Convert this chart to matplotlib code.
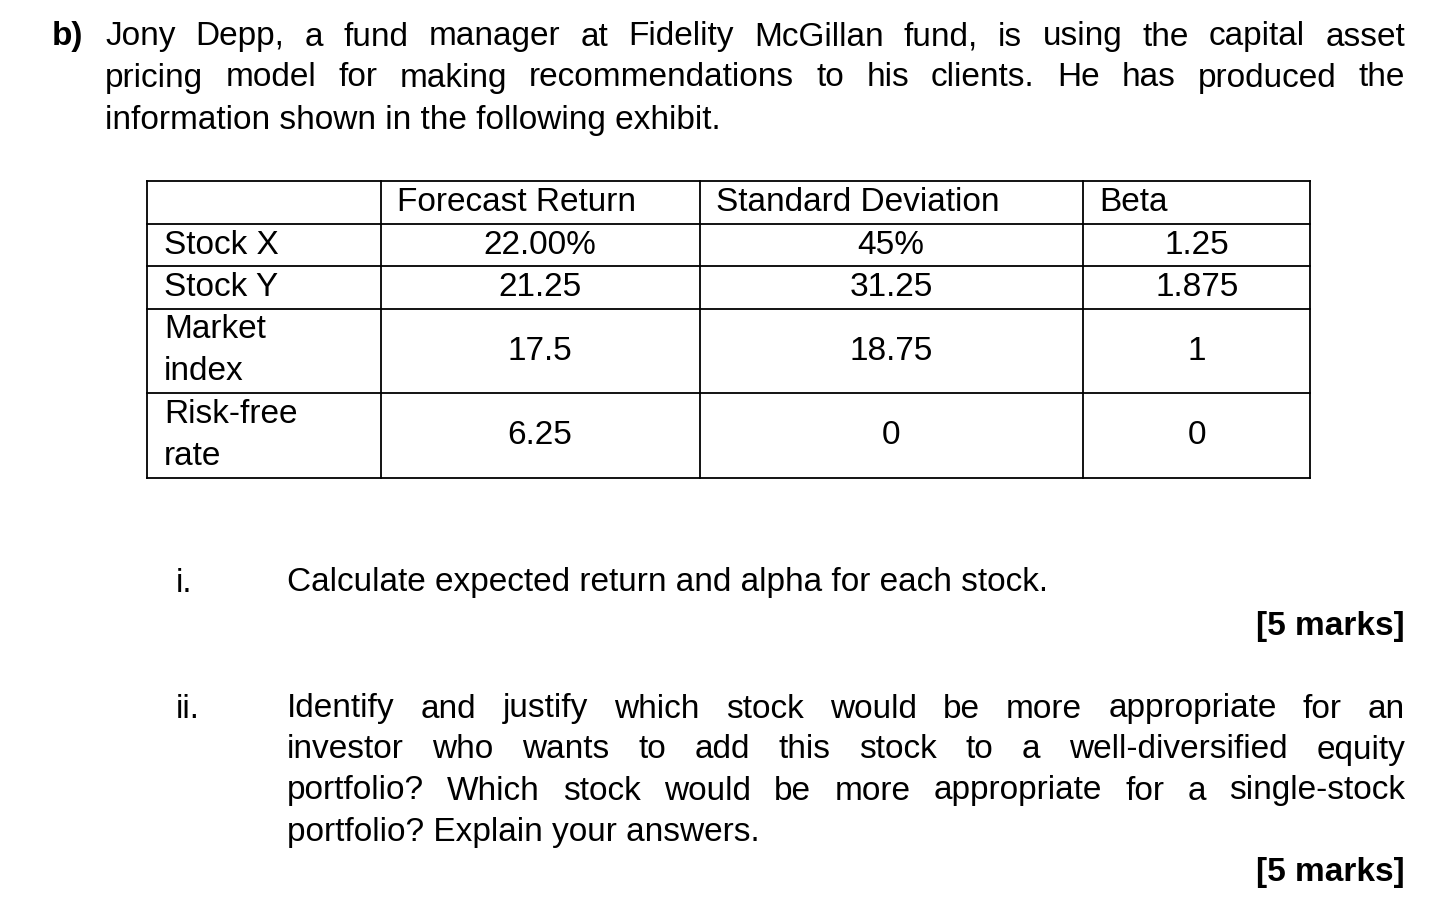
import matplotlib
matplotlib.use("Agg")
import matplotlib.pyplot as plt

plt.rcParams['font.family'] = ['Liberation Sans', 'DejaVu Sans']

intro_lines = ["Jony Depp, a fund manager at Fidelity McGillan fund, is using the capital asset",
               "pricing model for making recommendations to his clients. He has produced the",
               "information shown in the following exhibit."]
headers = ["", "Forecast Return", "Standard Deviation", "Beta"]
row_labels = [["Stock X"], ["Stock Y"], ["Market", "index"], ["Risk-free", "rate"]]
forecast = ["22.00%", "21.25", "17.5", "6.25"]
stdev = ["45%", "31.25", "18.75", "0"]
beta = ["1.25", "1.875", "1", "0"]
q1 = ["Calculate expected return and alpha for each stock."]
q2 = ["Identify and justify which stock would be more appropriate for an",
      "investor who wants to add this stock to a well-diversified equity",
      "portfolio? Which stock would be more appropriate for a single-stock",
      "portfolio? Explain your answers."]

W, H = 1456, 906
fig = plt.figure(figsize=(W/100, H/100), dpi=100)
ax = fig.add_axes([0, 0, 1, 1])
ax.set_xlim(0, W); ax.set_ylim(H, 0); ax.axis('off')
FS = 24
r = fig.canvas.get_renderer()

def justified(line, x0, x1, y, justify=True):
    words = line.split(" ")
    if not justify or len(words) == 1:
        ax.text(x0, y, line, fontsize=FS, va='center', ha='left')
        return
    ts = [ax.text(0, y, w, fontsize=FS, va='center', ha='left') for w in words]
    widths = [t.get_window_extent(r).width for t in ts]
    gap = (x1 - x0 - sum(widths)) / (len(words) - 1)
    x = x0
    for t, w in zip(ts, widths):
        t.set_x(x); x += w + gap

ax.text(52, 37, "b)", fontsize=FS, fontweight='bold', va='center')
for i, (ln, y) in enumerate(zip(intro_lines, [37, 78, 120])):
    justified(ln, 105, 1405, y, justify=(i < len(intro_lines) - 1))

# table
xs = [147, 381, 700, 1083, 1310]
ys = [181, 224, 266, 309, 393, 478]
for x in xs[1:]:
    ax.plot([x, x], [ys[0], ys[-1]], color='black', lw=1.3)
ax.plot([xs[0], xs[0]], [ys[0], ys[-1]], color='black', lw=1.3)
for y in ys:
    ax.plot([xs[0], xs[-1]], [y, y], color='black', lw=1.3)
for j, h in enumerate(headers):
    if h:
        ax.text(xs[j] + 16, (ys[0] + ys[1]) / 2, h, fontsize=FS, va='center')
for i in range(4):
    yc = (ys[i + 1] + ys[i + 2]) / 2
    lab = row_labels[i]
    if len(lab) == 1:
        ax.text(164, yc, lab[0], fontsize=FS, va='center')
    else:
        ax.text(164, yc - 21, lab[0], fontsize=FS, va='center')
        ax.text(164, yc + 21, lab[1], fontsize=FS, va='center')
    ax.text(540, yc, forecast[i], fontsize=FS, va='center', ha='center')
    ax.text(891, yc, stdev[i], fontsize=FS, va='center', ha='center')
    ax.text(1197, yc, beta[i], fontsize=FS, va='center', ha='center')

ax.text(176, 583, "i.", fontsize=FS, va='center')
justified(q1[0], 287, 1405, 583, justify=False)
ax.text(1405, 626, "[5 marks]", fontsize=FS, fontweight='bold', va='center', ha='right')
ax.text(176, 709, "ii.", fontsize=FS, va='center')
for i, (ln, y) in enumerate(zip(q2, [709, 750, 791, 832])):
    justified(ln, 287, 1405, y, justify=(i < len(q2) - 1))
ax.text(1405, 873, "[5 marks]", fontsize=FS, fontweight='bold', va='center', ha='right')

fig.savefig("out.png", dpi=100)
